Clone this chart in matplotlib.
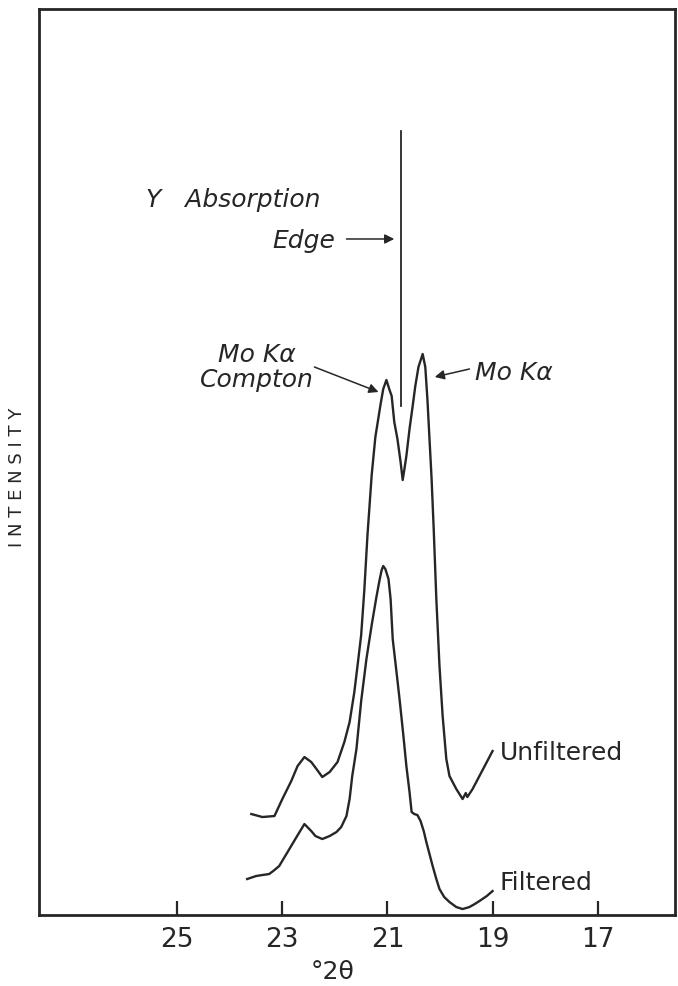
import matplotlib.pyplot as plt

# Data (2-theta in degrees, intensity in arbitrary units)
unfiltered_2theta = [23.59, 23.38, 23.15, 23.00, 22.83, 22.71, 22.58, 22.45, 22.35, 22.24,
                     22.10, 21.95, 21.82, 21.72, 21.63, 21.57, 21.50, 21.44, 21.38, 21.30,
                     21.23, 21.13, 21.08, 21.02, 20.96, 20.92, 20.87, 20.81, 20.75, 20.71,
                     20.68, 20.64, 20.58, 20.52, 20.47, 20.41, 20.33, 20.28, 20.24, 20.20,
                     20.16, 20.12, 20.07, 20.01, 19.95, 19.88, 19.82, 19.69, 19.57, 19.51,
                     19.48, 19.38, 19.25, 19.11, 19.00]
unfiltered_counts = [101, 98, 99, 116, 134, 149, 158, 153, 146, 138,
                     143, 153, 173, 193, 223, 249, 280, 325, 380, 440,
                     478, 511, 526, 535, 525, 519, 493, 476, 453, 435,
                     445, 459, 486, 509, 529, 548, 561, 548, 516, 476,
                     436, 386, 316, 249, 199, 156, 139, 126, 116, 122,
                     118, 126, 139, 153, 164]

filtered_2theta = [23.67, 23.50, 23.38, 23.25, 23.15, 23.06, 22.90, 22.73, 22.58, 22.45,
                   22.37, 22.24, 22.10, 21.97, 21.88, 21.78, 21.72, 21.67, 21.59, 21.50,
                   21.40, 21.30, 21.21, 21.15, 21.11, 21.08, 21.04, 20.98, 20.94, 20.90,
                   20.83, 20.77, 20.70, 20.64, 20.58, 20.54, 20.49, 20.43, 20.37, 20.31,
                   20.26, 20.20, 20.14, 20.07, 20.01, 19.92, 19.82, 19.69, 19.57, 19.44,
                   19.34, 19.25, 19.11, 19.00]
filtered_counts = [36, 39, 40, 41, 45, 49, 63, 78, 91, 84,
                   79, 76, 79, 83, 88, 99, 116, 139, 166, 214,
                   256, 290, 318, 335, 345, 349, 346, 336, 316, 276,
                   244, 216, 181, 149, 123, 103, 101, 100, 94, 84,
                   73, 61, 49, 36, 26, 18, 13, 8, 6, 8,
                   11, 14, 19, 24]

# Y absorption edge marker
edge_2theta = 20.75
edge_counts = [509, 784]

tick_values = [25, 23, 21, 19, 17]
tick_labels = ['25', '23', '21', '19', '17']

ink = '#262626'

fig = plt.figure(figsize=(6.78, 9.87), dpi=100)
ax = fig.add_axes([0.0575, 0.0719, 0.938, 0.918])

ax.plot(unfiltered_2theta, unfiltered_counts, color=ink, lw=1.7)
ax.plot(filtered_2theta, filtered_counts, color=ink, lw=1.7)
ax.plot([edge_2theta, edge_2theta], edge_counts, color=ink, lw=1.3)

# reversed 2-theta axis, as on the recorder chart
ax.set_xlim(27.63, 15.53)
ax.set_ylim(0, 906)

ax.set_xticks(tick_values)
ax.set_xticklabels(tick_labels, fontsize=19)
ax.set_yticks([])
ax.tick_params(axis='x', direction='in', length=10, width=1.6, pad=8, colors=ink)
for spine in ax.spines.values():
    spine.set_linewidth(2)
    spine.set_color(ink)

ax.set_xlabel('°2θ', fontsize=18, color=ink)
ax.xaxis.set_label_coords(0.462, -0.062)
ax.xaxis.label.set_va('center')
ax.set_ylabel('I N T E N S I T Y', fontsize=13, color=ink)
ax.yaxis.set_label_coords(-0.035, 0.4845)
ax.yaxis.label.set_va('center')

# annotations
it = dict(fontsize=18, style='italic', color=ink)
arrow = dict(arrowstyle='-|>', color=ink, lw=1.1, mutation_scale=14, shrinkA=0, shrinkB=0)

ax.text(25.59, 709, 'Y   Absorption', ha='left', va='baseline', **it)
ax.text(23.19, 668, 'Edge', ha='left', va='baseline', **it)
ax.annotate('', xy=(20.87, 676), xytext=(21.78, 676), arrowprops=arrow)

ax.text(23.48, 554, 'Mo Kα', ha='center', va='baseline', **it)
ax.text(23.48, 529, 'Compton', ha='center', va='baseline', **it)
ax.annotate('', xy=(21.17, 523), xytext=(22.39, 548), arrowprops=arrow)

ax.text(19.34, 536, 'Mo Kα', ha='left', va='baseline', **it)
ax.annotate('', xy=(20.10, 538), xytext=(19.44, 546), arrowprops=arrow)

ax.text(18.87, 163, 'Unfiltered', ha='left', va='center', fontsize=18, color=ink)
ax.text(18.87, 33, 'Filtered', ha='left', va='center', fontsize=18, color=ink)

fig.savefig('out.png', dpi=100)
